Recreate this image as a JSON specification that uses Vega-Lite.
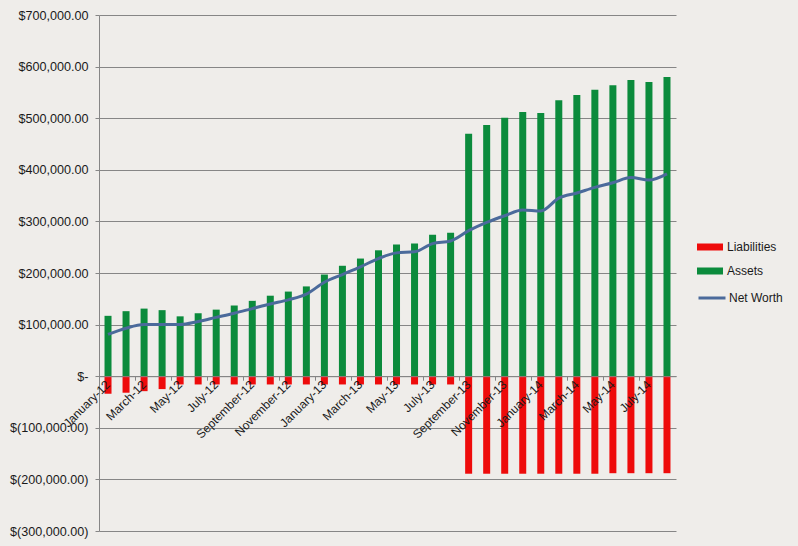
{
  "$schema": "https://vega.github.io/schema/vega-lite/v6.json",
  "width": 577,
  "height": 516,
  "autosize": "none",
  "padding": {"left": 99, "top": 15, "right": 122, "bottom": 15},
  "background": "#efedea",
  "config": {
    "view": {"stroke": null},
    "font": "Liberation Sans",
    "axis": {"labelColor": "#1a1a1a", "domainColor": "#868686", "tickColor": "#868686", "gridColor": "#868686", "gridOpacity": 1, "title": null}
  },
  "data": {
    "values": [
      {"month": "January-12", "Assets": 117000, "Liabilities": -34000, "NetWorth": 81000},
      {"month": "February-12", "Assets": 126000, "Liabilities": -32000, "NetWorth": 93000},
      {"month": "March-12", "Assets": 131000, "Liabilities": -29000, "NetWorth": 100000},
      {"month": "April-12", "Assets": 128000, "Liabilities": -25000, "NetWorth": 100000},
      {"month": "May-12", "Assets": 116000, "Liabilities": -16000, "NetWorth": 100000},
      {"month": "June-12", "Assets": 122000, "Liabilities": -16000, "NetWorth": 106000},
      {"month": "July-12", "Assets": 129000, "Liabilities": -16000, "NetWorth": 114000},
      {"month": "August-12", "Assets": 137000, "Liabilities": -16000, "NetWorth": 122000},
      {"month": "September-12", "Assets": 146000, "Liabilities": -16000, "NetWorth": 131000},
      {"month": "October-12", "Assets": 156000, "Liabilities": -16000, "NetWorth": 140000},
      {"month": "November-12", "Assets": 164000, "Liabilities": -16000, "NetWorth": 148000},
      {"month": "December-12", "Assets": 174000, "Liabilities": -16000, "NetWorth": 159000},
      {"month": "January-13", "Assets": 197000, "Liabilities": -16000, "NetWorth": 182000},
      {"month": "February-13", "Assets": 214000, "Liabilities": -16000, "NetWorth": 197000},
      {"month": "March-13", "Assets": 228000, "Liabilities": -16000, "NetWorth": 212000},
      {"month": "April-13", "Assets": 244000, "Liabilities": -16000, "NetWorth": 228000},
      {"month": "May-13", "Assets": 255000, "Liabilities": -16000, "NetWorth": 239000},
      {"month": "June-13", "Assets": 257000, "Liabilities": -16000, "NetWorth": 241000},
      {"month": "July-13", "Assets": 274000, "Liabilities": -16000, "NetWorth": 257000},
      {"month": "August-13", "Assets": 278000, "Liabilities": -16000, "NetWorth": 262000},
      {"month": "September-13", "Assets": 470000, "Liabilities": -189000, "NetWorth": 282000},
      {"month": "October-13", "Assets": 487000, "Liabilities": -189000, "NetWorth": 298000},
      {"month": "November-13", "Assets": 501000, "Liabilities": -189000, "NetWorth": 311000},
      {"month": "December-13", "Assets": 512000, "Liabilities": -189000, "NetWorth": 322000},
      {"month": "January-14", "Assets": 510000, "Liabilities": -189000, "NetWorth": 320000},
      {"month": "February-14", "Assets": 535000, "Liabilities": -189000, "NetWorth": 345000},
      {"month": "March-14", "Assets": 545000, "Liabilities": -189000, "NetWorth": 355000},
      {"month": "April-14", "Assets": 555000, "Liabilities": -189000, "NetWorth": 366000},
      {"month": "May-14", "Assets": 564000, "Liabilities": -188000, "NetWorth": 375000},
      {"month": "June-14", "Assets": 574000, "Liabilities": -188000, "NetWorth": 385000},
      {"month": "July-14", "Assets": 570000, "Liabilities": -188000, "NetWorth": 380000},
      {"month": "August-14", "Assets": 580000, "Liabilities": -188000, "NetWorth": 392000}
    ]
  },
  "encoding": {
    "x": {
      "field": "month",
      "type": "nominal",
      "sort": null,
      "scale": {"paddingInner": 0, "paddingOuter": 0},
      "axis": {
        "values": ["January-12", "March-12", "May-12", "July-12", "September-12", "November-12", "January-13", "March-13", "May-13", "July-13", "September-13", "November-13", "January-14", "March-14", "May-14", "July-14"],
        "bandPosition": 0,
        "labelAngle": -45,
        "labelAlign": "right",
        "labelBaseline": "middle",
        "labelDx": 6.4,
        "labelDy": 6.4,
        "labelFontSize": 12,
        "labelPadding": 2,
        "tickSize": 4,
        "offset": -154.8,
        "zindex": 2
      }
    }
  },
  "layer": [
    {
      "mark": {"type": "bar", "size": 7},
      "encoding": {
        "y": {
          "field": "Assets",
          "type": "quantitative",
          "scale": {"domain": [-300000, 700000], "nice": false},
          "axis": {
            "values": [-300000, -200000, -100000, 0, 100000, 200000, 300000, 400000, 500000, 600000, 700000],
            "labelExpr": "datum.value == 0 ? '$-\u2002\u2002\u2002' : datum.value < 0 ? '$(' + format(-datum.value, ',.2f') + ')' : '$' + format(datum.value, ',.2f') + '\u2002'",
            "labelFontSize": 12.6,
            "tickSize": 4,
            "labelPadding": 7,
            "grid": true,
            "domain": true
          }
        },
        "color": {
          "datum": "Assets",
          "scale": {"domain": ["Liabilities", "Assets"], "range": ["#ee0b0b", "#0b8b3c"]},
          "legend": {
            "title": null,
            "orient": "none",
            "legendX": 601,
            "legendY": 222,
            "padding": 0,
            "rowPadding": 8,
            "labelFontSize": 12,
            "labelColor": "#1a1a1a",
            "labelOffset": 7,
            "symbolType": "M-1.3,-0.35H1.3V0.35H-1.3Z",
            "symbolSize": 400,
            "symbolStrokeWidth": 0,
            "symbolOpacity": 1
          }
        }
      }
    },
    {
      "mark": {"type": "bar", "size": 7},
      "encoding": {
        "y": {"field": "Liabilities", "type": "quantitative"},
        "color": {"datum": "Liabilities"}
      }
    },
    {
      "mark": {"type": "line", "strokeWidth": 3, "interpolate": "monotone"},
      "encoding": {
        "y": {"field": "NetWorth", "type": "quantitative"},
        "stroke": {
          "datum": "Net Worth",
          "scale": {"range": ["#4b6a9b"]},
          "legend": {
            "title": null,
            "orient": "none",
            "legendX": 598,
            "legendY": 268,
            "padding": 0,
            "labelFontSize": 12,
            "labelColor": "#1a1a1a",
            "labelOffset": 2,
            "symbolType": "stroke",
            "symbolSize": 729,
            "symbolStrokeWidth": 3
          }
        }
      }
    }
  ]
}
